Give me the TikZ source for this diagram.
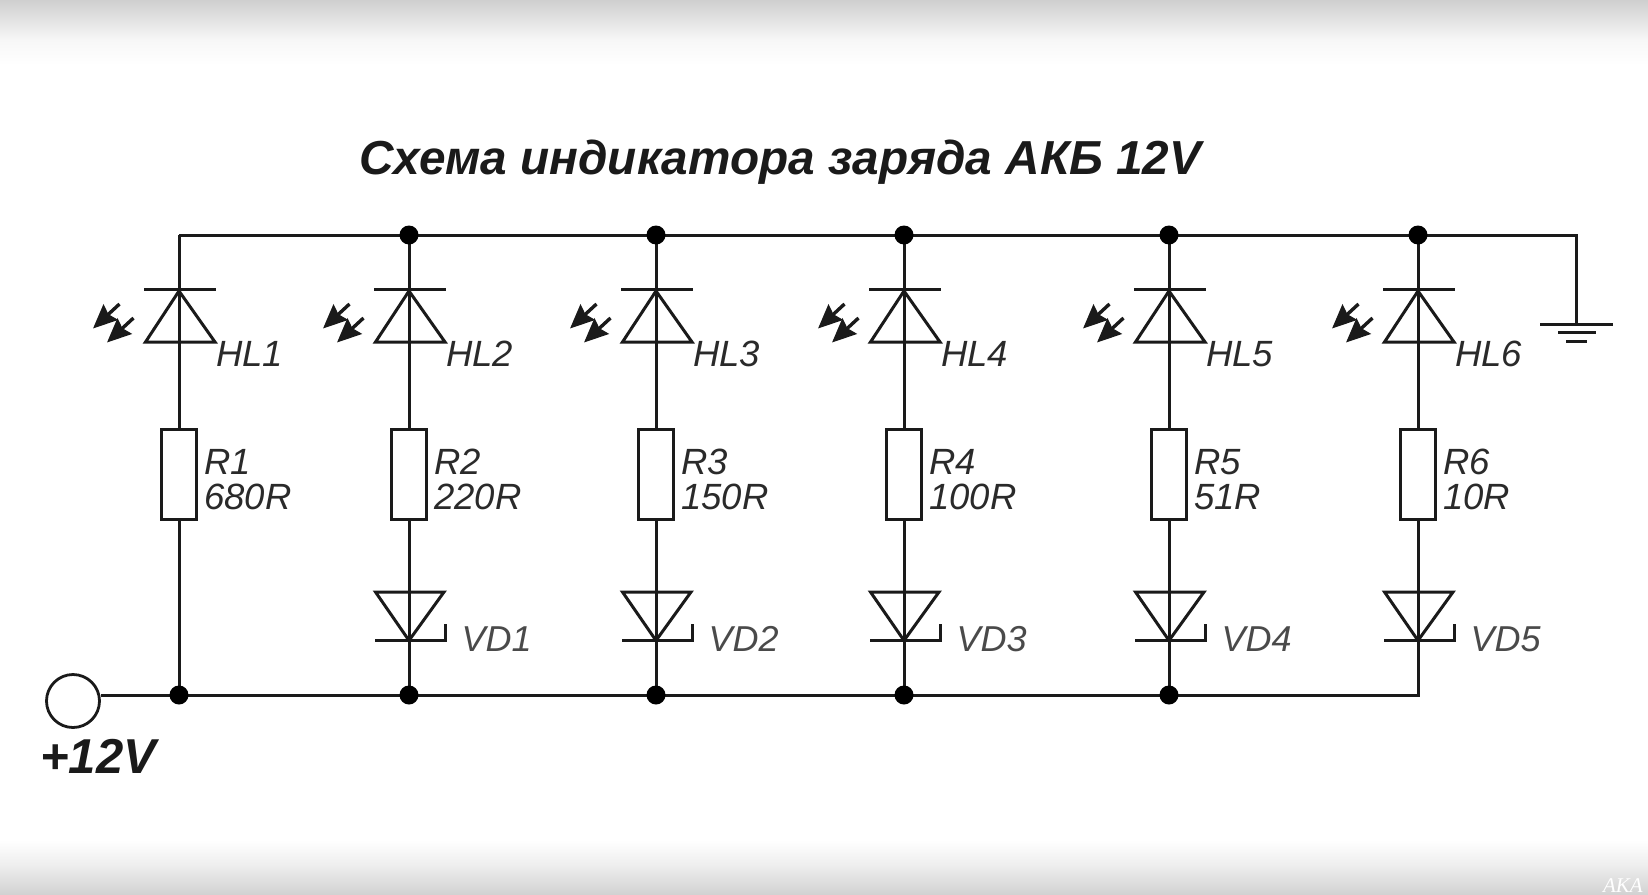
\documentclass[tikz,border=0pt]{standalone}
\usepackage{fontspec}
\setmainfont{Liberation Sans}
\newfontfamily\markfont{Liberation Serif}
\usetikzlibrary{arrows.meta}
\definecolor{ink}{HTML}{1A1A1A}
\definecolor{lab}{HTML}{2A2A2A}
\definecolor{shadeA}{HTML}{CFCFCF}
\definecolor{shadeB}{HTML}{F7F7F7}
\definecolor{shadeC}{HTML}{EEEEEE}
\definecolor{shadeD}{HTML}{D2D2D2}
\tikzset{
  wire/.style={draw=ink,line width=3pt},
  thin wire/.style={draw=ink,line width=3pt},
  resistor/.style={draw=ink,fill=white,line width=3pt,rectangle,minimum width=35pt,minimum height=90pt,inner sep=0pt},
  joint/.style={circle,fill=black,draw=none,minimum size=19pt,inner sep=0pt},
  terminal/.style={circle,draw=ink,fill=white,line width=2.8pt,minimum size=53pt,inner sep=0pt},
  ray/.style={draw=ink,line width=3.4pt,-{Stealth[length=24pt,width=21pt,inset=3pt]}},
  partlabel/.style={text=lab,font=\fontsize{36.5}{38}\selectfont\itshape,anchor=base west,inner sep=0pt},
  vdlabel/.style={text=lab!85,font=\fontsize{36}{38}\selectfont\itshape,anchor=base west,inner sep=0pt},
  valuelabel/.style={text=lab,font=\fontsize{36.5}{38}\selectfont\itshape,anchor=base west,inner sep=0pt},
  titlelabel/.style={text=ink,font=\fontsize{47.7}{50}\selectfont\bfseries\itshape,anchor=base west,inner sep=0pt},
  powerlabel/.style={text=ink,font=\fontsize{49}{50}\selectfont\bfseries\itshape,anchor=base west,inner sep=0pt},
}
\begin{document}
\begin{tikzpicture}[x=1pt,y=-1pt]
\useasboundingbox (0,0) rectangle (1648,894);
\fill[white] (0,0) rectangle (1648,894);
\shade[top color=shadeA,bottom color=shadeB] (0,0) rectangle (1648,40);
\shade[top color=shadeB,bottom color=white] (0,40) rectangle (1648,65);
\shade[top color=white,bottom color=shadeC] (0,840) rectangle (1648,865);
\shade[top color=shadeC,bottom color=shadeD] (0,865) rectangle (1648,894);
\node[text=white,font=\markfont\fontsize{21}{21}\selectfont\itshape,anchor=base east,inner sep=0pt] (mark) at (1643,892) {AKA};

\node[titlelabel] (title) at (359,174.5) {Схема индикатора заряда АКБ 12V};

% rails
\coordinate (tl) at (179,235);
\coordinate (tr) at (1576.5,235);
\coordinate (gnd) at (1576.5,324.5);
\node[terminal] (plus) at (73,701) {};
\coordinate (bend) at (1418,695);
\node[powerlabel] (plusl) at (40,773) {+12V};

% six LED branches
\foreach \i/\x/\rv in {1/179/680R,2/409/220R,3/656/150R,4/904/100R,5/1169/51R,6/1418/10R}{
  \coordinate (t\i) at (\x,235);
  \coordinate (k\i) at (\x,289);
  \coordinate (a\i) at (\x,342);
  \coordinate (kl\i) at (\x-35,289);
  \coordinate (kr\i) at (\x+37,289);
  \coordinate (al\i) at (\x-33.5,342);
  \coordinate (ar\i) at (\x+36,342);
  \coordinate (apx\i) at (\x,291);
  \node[resistor] (r\i) at (\x,474) {};
  \draw[thin wire] (kl\i) -- (kr\i);
  \draw[thin wire,line join=miter] (al\i) -- (apx\i) -- (ar\i) -- cycle;
  \draw[wire] (t\i) -- (k\i) -- (a\i) -- (r\i.north);
  \coordinate (rayAs\i) at (\x-59.5,304);
  \coordinate (rayAe\i) at (\x-86,328.5);
  \coordinate (rayBs\i) at (\x-45.5,318);
  \coordinate (rayBe\i) at (\x-72,342.5);
  \draw[ray] (rayAs\i) -- (rayAe\i);
  \draw[ray] (rayBs\i) -- (rayBe\i);
  \node[partlabel] (hl\i) at (\x+37,366) {HL\i};
  \node[valuelabel] (rn\i) at (\x+25,474) {R\i};
  \node[valuelabel] (rv\i) at (\x+25,509) {\rv};
}

% zener branches
\foreach \i/\j/\v in {2/1/409,3/2/656,4/3/904,5/4/1169,6/5/1418}{
  \coordinate (va\j) at (\v,592);
  \coordinate (vk\j) at (\v,640.5);
  \coordinate (vl\j) at (\v-33.5,592);
  \coordinate (vr\j) at (\v+35,592);
  \coordinate (bl\j) at (\v-34,640.5);
  \coordinate (br\j) at (\v+36,640.5);
  \coordinate (tk\j) at (\v+36,624);
  \draw[thin wire] (vl\j) -- (vr\j) -- (vk\j) -- cycle;
  \draw[thin wire,line join=miter] (bl\j) -- (br\j) -- (tk\j);
  \draw[wire] (r\i.south) -- (va\j) -- (vk\j) -- (\v,695);
  \node[vdlabel] (vd\j) at (\v+52.5,651) {VD\j};
}
\draw[wire] (r1.south) -- (179,695);

% rails on top
\draw[wire,line join=miter] (tl) -- (t1) -- (tr) -- (gnd);
\draw[wire,line join=miter] (plus.east |- bend) -- (bend) -- (1418,640.5);

% ground
\coordinate (g1l) at (1540,324.5);
\coordinate (g1r) at (1613,324.5);
\coordinate (g2l) at (1558,332);
\coordinate (g2r) at (1596,332);
\coordinate (g3l) at (1566,341.5);
\coordinate (g3r) at (1587,341.5);
\draw[thin wire] (g1l) -- (g1r);
\draw[thin wire] (g2l) -- (g2r);
\draw[thin wire] (g3l) -- (g3r);

% joints
\foreach \n/\x/\y in {jt2/409/235,jt3/656/235,jt4/904/235,jt5/1169/235,jt6/1418/235,jb1/179/695,jb2/409/695,jb3/656/695,jb4/904/695,jb5/1169/695}{
  \node[joint] (\n) at (\x,\y) {};
}
\end{tikzpicture}
\end{document}
